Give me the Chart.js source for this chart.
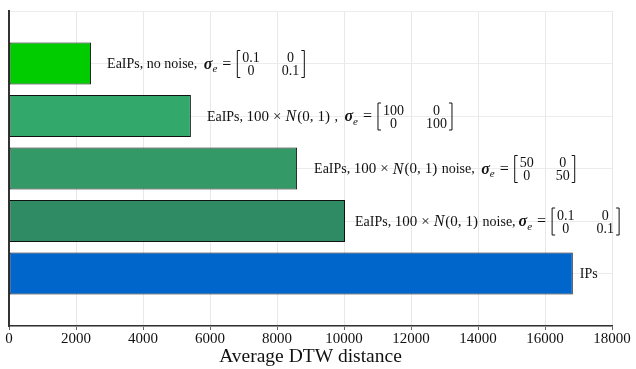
<!DOCTYPE html>
<html>
<head>
<meta charset="utf-8">
<script src="https://cdn.jsdelivr.net/npm/chart.js@4/dist/chart.umd.min.js"></script>
<style>
  html, body { margin: 0; padding: 0; background: #ffffff; }
  #wrap { width: 636px; height: 369px; }
</style>
</head>
<body>
<div id="wrap"><canvas id="c" width="636" height="369"></canvas></div>
<script>
// ---- data ----
const categories = [
  'EaIPs, no noise, ',
  'EaIPs, 100 × 𝒩(0, 1) , ',
  'EaIPs, 100 × 𝒩(0, 1) noise, ',
  'EaIPs, 100 × 𝒩(0, 1) noise,',
  'IPs'
];
const sigmaDiagonal = ['0.1', '100', '50', '0.1', null];
const avgDTW = [2450, 5430, 8600, 10030, 16830];
const xTicks = [0, 2000, 4000, 6000, 8000, 10000, 12000, 14000, 16000, 18000];
const xTitle = 'Average DTW distance';

// ---- styling ----
const barColors = ['#00cc00', '#33a86b', '#339966', '#2e8b63', '#0066cc'];
const labelGap = [16, 16, 17, 10, 7];
const SERIF = '"Liberation Serif", "DejaVu Serif", serif';
const MATH = '100 × 𝒩(0, 1)';

// pad the category axis with empty slots so bars sit a full step from the edges
const yLabels = [''].concat(categories, ['']);
const yData = [null].concat(avgDTW, [null]);
const yColors = ['rgba(0,0,0,0)'].concat(barColors, ['rgba(0,0,0,0)']);

function drawBracket(ctx, x, top, bottom, dir) {
  ctx.beginPath();
  ctx.moveTo(x + dir * 3, top);
  ctx.lineTo(x, top);
  ctx.lineTo(x, bottom);
  ctx.lineTo(x + dir * 3, bottom);
  ctx.stroke();
}

function drawRun(ctx, text, font, x, y) {
  ctx.font = font;
  ctx.fillText(text, x, y);
  return x + ctx.measureText(text).width;
}

const labelPlugin = {
  id: 'barLabels',
  afterDatasetsDraw(chart) {
    const ctx = chart.ctx;
    const meta = chart.getDatasetMeta(0);
    const TXT = '14px ' + SERIF;
    const MTH = '15px ' + SERIF;
    ctx.save();
    ctx.fillStyle = '#111111';
    ctx.strokeStyle = '#111111';
    ctx.lineWidth = 1;
    ctx.textBaseline = 'middle';
    ctx.textAlign = 'left';
    categories.forEach((txt, i) => {
      const el = meta.data[i + 1];
      let x = el.x + labelGap[i];
      const y = el.y + 1;
      const pieces = txt.split(MATH);
      pieces.forEach((p, k) => {
        x = drawRun(ctx, p, TXT, x, y);
        if (k < pieces.length - 1) {
          // math part: 100 × N(0, 1)
          x = drawRun(ctx, '100', MTH, x, y) + 4;
          x = drawRun(ctx, '×', MTH, x, y) + 4;
          x = drawRun(ctx, 'N', 'italic 16px ' + SERIF, x, y) + 1;
          x = drawRun(ctx, '(0,', MTH, x, y) + 4;
          x = drawRun(ctx, '1)', MTH, x, y) + 1;
        }
      });
      const d = sigmaDiagonal[i];
      if (d === null) return;
      // bold italic sigma with subscript e
      x += 3;
      x = drawRun(ctx, 'σ', 'bold italic 16px ' + SERIF, x, y);
      x = drawRun(ctx, 'e', 'italic 11px ' + SERIF, x, y + 5) + 5;
      x = drawRun(ctx, '=', '16px ' + SERIF, x, y) + 6;
      // 2x2 diagonal matrix
      ctx.font = '14px ' + SERIF;
      const w = ctx.measureText(d).width;
      const top = y - 14, bottom = y + 13;
      drawBracket(ctx, x, top, bottom, 1);
      const c1 = x + 5 + w / 2;
      const c2 = c1 + w + 22;
      ctx.textAlign = 'center';
      ctx.fillText(d, c1, y - 6);
      ctx.fillText('0', c2, y - 6);
      ctx.fillText('0', c1, y + 7);
      ctx.fillText(d, c2, y + 7);
      ctx.textAlign = 'left';
      drawBracket(ctx, c2 + w / 2 + 5, top, bottom, -1);
    });
    ctx.restore();
  }
};

new Chart(document.getElementById('c'), {
  type: 'bar',
  data: {
    labels: yLabels,
    datasets: [{
      data: yData,
      backgroundColor: yColors,
      borderColor: '#111111',
      borderWidth: 1,
      borderSkipped: false,
      barPercentage: 0.8,
      categoryPercentage: 1.0
    }]
  },
  options: {
    indexAxis: 'y',
    responsive: false,
    animation: false,
    events: [],
    layout: { padding: { left: 9, top: 11, right: 24, bottom: 0 } },
    plugins: { legend: { display: false }, tooltip: { enabled: false } },
    scales: {
      x: {
        type: 'linear',
        min: xTicks[0],
        max: xTicks[xTicks.length - 1],
        afterBuildTicks(scale) { scale.ticks = xTicks.map(v => ({ value: v })); },
        afterFit(scale) { scale.height = 43; },
        grid: { color: '#e8e8e8', tickColor: '#666666', tickLength: 4 },
        border: { display: true, color: '#333333', width: 1.5 },
        ticks: {
          color: '#111111',
          font: { family: SERIF, size: 15 },
          padding: 0,
          maxRotation: 0,
          autoSkip: false,
          callback: (v) => String(v)
        },
        title: {
          display: true,
          text: xTitle,
          color: '#111111',
          font: { family: SERIF, size: 19.5 },
          padding: { top: 0, bottom: 0 }
        }
      },
      y: {
        type: 'category',
        offset: false,
        afterFit(scale) { scale.width = 0; },
        grid: { color: '#ececec', drawTicks: false, offset: false },
        border: { display: true, color: '#333333', width: 2 },
        ticks: { display: false }
      }
    }
  },
  plugins: [labelPlugin]
});
</script>
</body>
</html>
